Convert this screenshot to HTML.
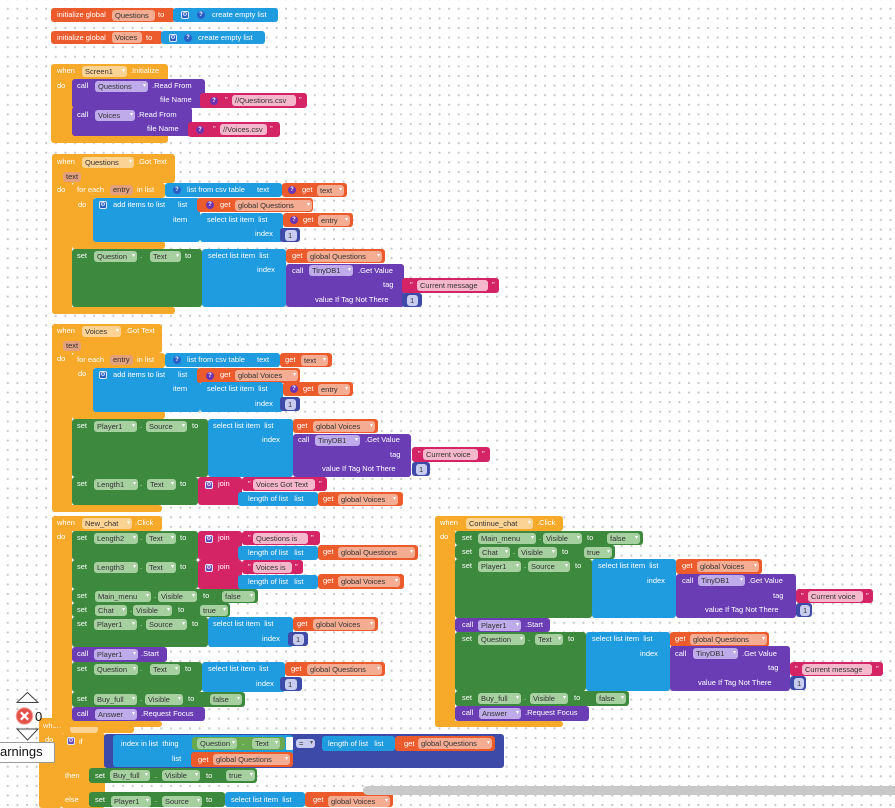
<!DOCTYPE html>
<html><head><meta charset="utf-8">
<style>
*{margin:0;padding:0}
body{width:895px;height:803px;overflow:hidden;position:relative;background:#fff;background-image:radial-gradient(circle,#c6c6c6 0.9px,transparent 1.3px);background-size:9.6px 9.6px;background-position:3px 4px;font-family:"Liberation Sans",sans-serif;font-size:7.5px}
.b{position:absolute;border-radius:3px}
.x{position:absolute;color:#fff;line-height:10px;white-space:nowrap}
.k{position:absolute;height:11px;line-height:11px;border-radius:3px;color:#333;padding-left:3px;box-sizing:border-box;white-space:nowrap;overflow:hidden}
.k i{position:absolute;right:2px;top:0;font-style:normal;color:#fff;font-size:6px}
.q{position:absolute;width:8px;height:8px;border-radius:50%;color:#fff;font-size:6px;line-height:8px;text-align:center;font-weight:bold}
.gr{position:absolute;width:8px;height:8px;border-radius:2px;box-sizing:border-box;border:1px solid #dfe8ff;color:#fff;font-family:"DejaVu Sans",sans-serif;font-size:6px;line-height:6px;text-align:center}
.O{background:#eb5b2b}.C{background:#f7a929}.L{background:#1f9be0}.G{background:#3d8a3e}.P{background:#6a3db5}.T{background:#d42466}.M{background:#3e4aa8}.GL{background:#68a84e}
.ko{background:#f4ac92}.kc{background:#fbd394}.ke{background:#e3a07c}.kg{background:#a6d0a0}.kp{background:#bfaaea}.kt{background:#f5b7cc}.km{background:#c8cdf0}
.qb{background:#2a5fc8}.qp{background:#6b35b0}
.gb{background:#2c5fc4}.gp{background:#6a4ab8}
</style></head><body>

<!-- hidden bottom event (under New_chat) -->
<div class="b C" style="left:39px;top:718px;width:95px;height:15px"></div>
<div class="b C" style="left:39px;top:718px;width:23px;height:90px"></div>
<span class="x" style="left:43px;top:721px;color:#f3f3f3">when</span>
<span class="k kc" style="left:70px;top:722px;width:28px"></span>
<span class="x" style="left:45px;top:735px">do</span>

<!-- global Questions -->
<div class="b O" style="left:51px;top:8px;width:124px;height:14px"></div>
<div class="b L" style="left:173px;top:8px;width:105px;height:14px"></div>
<span class="x" style="left:57px;top:10px">initialize global</span>
<span class="k ko" style="left:112px;top:9.5px;width:43px">Questions</span>
<span class="x" style="left:158px;top:10px">to</span>
<span class="gr gb" style="left:181px;top:11px">⚙</span>
<span class="q qb" style="left:197px;top:11px">?</span>
<span class="x" style="left:212px;top:10px">create empty list</span>

<!-- global Voices -->
<div class="b O" style="left:51px;top:31px;width:112px;height:13px"></div>
<div class="b L" style="left:161px;top:31px;width:104px;height:13px"></div>
<span class="x" style="left:57px;top:32.5px">initialize global</span>
<span class="k ko" style="left:112px;top:32px;width:30px">Voices</span>
<span class="x" style="left:146px;top:32.5px">to</span>
<span class="gr gb" style="left:169px;top:33.5px">⚙</span>
<span class="q qb" style="left:184px;top:33.5px">?</span>
<span class="x" style="left:198px;top:32.5px">create empty list</span>

<!-- Screen1.Initialize -->
<div class="b C" style="left:51px;top:64px;width:117px;height:79px"></div>
<span class="x" style="left:57px;top:66px">when</span>
<span class="k kc" style="left:82px;top:66px;width:45px">Screen1<i>▾</i></span>
<span class="x" style="left:130px;top:66px">.Initialize</span>
<span class="x" style="left:57px;top:81px">do</span>
<div class="b P" style="left:72px;top:79px;width:133px;height:29px"></div>
<span class="x" style="left:77px;top:81px">call</span>
<span class="k kp" style="left:95px;top:81px;width:53px">Questions<i>▾</i></span>
<span class="x" style="left:152px;top:81px">.Read From</span>
<span class="x" style="left:160px;top:95px">file Name</span>
<div class="b T" style="left:200px;top:93px;width:107px;height:15px"></div>
<span class="q qp" style="left:210px;top:96.5px">?</span>
<span class="x" style="left:225px;top:95px">"</span>
<span class="k kt" style="left:232px;top:95px;width:64px">//Questions.csv</span>
<span class="x" style="left:299px;top:95px">"</span>
<div class="b P" style="left:72px;top:107px;width:120px;height:29px"></div>
<span class="x" style="left:77px;top:110px">call</span>
<span class="k kp" style="left:95px;top:110px;width:40px">Voices<i>▾</i></span>
<span class="x" style="left:137px;top:110px">.Read From</span>
<span class="x" style="left:147px;top:124px">file Name</span>
<div class="b T" style="left:188px;top:122px;width:92px;height:15px"></div>
<span class="q qp" style="left:196px;top:125.5px">?</span>
<span class="x" style="left:213px;top:124px">"</span>
<span class="k kt" style="left:220px;top:124px;width:47px">//Voices.csv</span>
<span class="x" style="left:270px;top:124px">"</span>

<!-- Questions.GotText -->
<div class="b C" style="left:52px;top:154px;width:123px;height:29px"></div>
<div class="b C" style="left:52px;top:154px;width:20px;height:160px"></div>
<div class="b C" style="left:52px;top:307px;width:123px;height:7px"></div>
<span class="x" style="left:57px;top:157px">when</span>
<span class="k kc" style="left:82px;top:157px;width:52px">Questions<i>▾</i></span>
<span class="x" style="left:137px;top:157px">.Got Text</span>
<span class="k ke" style="left:63px;top:172px;width:18px;height:10px;line-height:10px">text</span>
<span class="x" style="left:57px;top:185px">do</span>
<div class="b C" style="left:72px;top:183px;width:93px;height:15px"></div>
<div class="b C" style="left:72px;top:183px;width:22px;height:65px"></div>
<div class="b C" style="left:72px;top:241px;width:93px;height:8px"></div>
<span class="x" style="left:77px;top:185px">for each</span>
<span class="k ke" style="left:110px;top:185px;width:23px;height:10px;line-height:10px">entry</span>
<span class="x" style="left:137px;top:185px">in list</span>
<span class="x" style="left:78px;top:200px">do</span>
<div class="b L" style="left:165px;top:183px;width:117px;height:14px"></div>
<span class="q qb" style="left:173px;top:186px">?</span>
<span class="x" style="left:187px;top:185px">list from csv table</span>
<span class="x" style="left:257px;top:185px">text</span>
<div class="b O" style="left:282px;top:183px;width:65px;height:14px"></div>
<span class="q qp" style="left:288px;top:186px">?</span>
<span class="x" style="left:302px;top:185px">get</span>
<span class="k ko" style="left:317px;top:184.5px;width:27px">text<i>▾</i></span>
<div class="b L" style="left:93px;top:198px;width:107px;height:44px"></div>
<span class="gr gb" style="left:99px;top:201px">⚙</span>
<span class="x" style="left:113px;top:200px">add items to list</span>
<span class="x" style="left:178px;top:200px">list</span>
<span class="x" style="left:173px;top:215px">item</span>
<div class="b O" style="left:197px;top:198px;width:116px;height:14px"></div>
<span class="q qp" style="left:206px;top:201px">?</span>
<span class="x" style="left:220px;top:200px">get</span>
<span class="k ko" style="left:235px;top:199.5px;width:77px">global Questions<i>▾</i></span>
<div class="b L" style="left:200px;top:213px;width:83px;height:29px"></div>
<span class="x" style="left:207px;top:215px">select list item&nbsp; list</span>
<span class="x" style="left:255px;top:229px">index</span>
<div class="b O" style="left:283px;top:213px;width:70px;height:14px"></div>
<span class="q qp" style="left:290px;top:216px">?</span>
<span class="x" style="left:303px;top:215px">get</span>
<span class="k ko" style="left:318px;top:214.5px;width:32px">entry<i>▾</i></span>
<div class="b M" style="left:280px;top:228px;width:20px;height:14px"></div>
<span class="k km" style="left:285px;top:229.5px;width:12px">1</span>
<div class="b G" style="left:72px;top:249px;width:130px;height:58px"></div>
<span class="x" style="left:77px;top:251px">set</span>
<span class="k kg" style="left:94px;top:251px;width:43px">Question<i>▾</i></span>
<span class="x" style="left:140px;top:251px">.</span>
<span class="k kg" style="left:150px;top:251px;width:31px">Text<i>▾</i></span>
<span class="x" style="left:185px;top:251px">to</span>
<div class="b L" style="left:202px;top:249px;width:84px;height:58px"></div>
<span class="x" style="left:208px;top:251px">select list item&nbsp; list</span>
<span class="x" style="left:257px;top:265px">index</span>
<div class="b O" style="left:286px;top:249px;width:99px;height:14px"></div>
<span class="x" style="left:292px;top:251px">get</span>
<span class="k ko" style="left:307px;top:250.5px;width:75px">global Questions<i>▾</i></span>
<div class="b P" style="left:286px;top:264px;width:118px;height:43px"></div>
<span class="x" style="left:292px;top:266px">call</span>
<span class="k kp" style="left:309px;top:265px;width:44px">TinyDB1<i>▾</i></span>
<span class="x" style="left:358px;top:266px">.Get Value</span>
<span class="x" style="left:383px;top:280px">tag</span>
<span class="x" style="left:315px;top:295px">value If Tag Not There</span>
<div class="b T" style="left:402px;top:278px;width:97px;height:15px"></div>
<span class="x" style="left:410px;top:280px">"</span>
<span class="k kt" style="left:417px;top:280px;width:71px">Current message</span>
<span class="x" style="left:492px;top:280px">"</span>
<div class="b M" style="left:402px;top:293px;width:20px;height:14px"></div>
<span class="k km" style="left:407px;top:294.5px;width:11px">1</span>

<!-- Voices.GotText -->
<div class="b C" style="left:52px;top:324px;width:110px;height:29px"></div>
<div class="b C" style="left:52px;top:324px;width:20px;height:188px"></div>
<div class="b C" style="left:52px;top:505px;width:110px;height:7px"></div>
<span class="x" style="left:57px;top:326px">when</span>
<span class="k kc" style="left:82px;top:326px;width:39px">Voices<i>▾</i></span>
<span class="x" style="left:125px;top:326px">.Got Text</span>
<span class="k ke" style="left:63px;top:341px;width:18px;height:10px;line-height:10px">text</span>
<span class="x" style="left:57px;top:354px">do</span>
<div class="b C" style="left:72px;top:353px;width:93px;height:15px"></div>
<div class="b C" style="left:72px;top:353px;width:22px;height:66px"></div>
<div class="b C" style="left:72px;top:411px;width:93px;height:8px"></div>
<span class="x" style="left:77px;top:355px">for each</span>
<span class="k ke" style="left:110px;top:355px;width:23px;height:10px;line-height:10px">entry</span>
<span class="x" style="left:137px;top:355px">in list</span>
<span class="x" style="left:78px;top:369px">do</span>
<div class="b L" style="left:165px;top:353px;width:115px;height:14px"></div>
<span class="q qb" style="left:173px;top:356px">?</span>
<span class="x" style="left:187px;top:355px">list from csv table</span>
<span class="x" style="left:257px;top:355px">text</span>
<div class="b O" style="left:280px;top:353px;width:52px;height:14px"></div>
<span class="x" style="left:285px;top:355px">get</span>
<span class="k ko" style="left:301px;top:354.5px;width:27px">text<i>▾</i></span>
<div class="b L" style="left:93px;top:368px;width:107px;height:44px"></div>
<span class="gr gb" style="left:99px;top:371px">⚙</span>
<span class="x" style="left:113px;top:370px">add items to list</span>
<span class="x" style="left:178px;top:370px">list</span>
<span class="x" style="left:173px;top:384px">item</span>
<div class="b O" style="left:197px;top:368px;width:103px;height:15px"></div>
<span class="q qp" style="left:206px;top:371.5px">?</span>
<span class="x" style="left:220px;top:370px">get</span>
<span class="k ko" style="left:235px;top:370px;width:63px">global Voices<i>▾</i></span>
<div class="b L" style="left:200px;top:382px;width:83px;height:30px"></div>
<span class="x" style="left:207px;top:384px">select list item&nbsp; list</span>
<span class="x" style="left:255px;top:399px">index</span>
<div class="b O" style="left:283px;top:382px;width:70px;height:14px"></div>
<span class="q qp" style="left:290px;top:385px">?</span>
<span class="x" style="left:303px;top:384px">get</span>
<span class="k ko" style="left:318px;top:383.5px;width:32px">entry<i>▾</i></span>
<div class="b M" style="left:280px;top:397px;width:20px;height:14px"></div>
<span class="k km" style="left:285px;top:398.5px;width:11px">1</span>
<div class="b G" style="left:72px;top:419px;width:136px;height:58px"></div>
<span class="x" style="left:77px;top:421px">set</span>
<span class="k kg" style="left:94px;top:421px;width:43px">Player1<i>▾</i></span>
<span class="x" style="left:140px;top:421px">.</span>
<span class="k kg" style="left:146px;top:421px;width:41px">Source<i>▾</i></span>
<span class="x" style="left:192px;top:421px">to</span>
<div class="b L" style="left:208px;top:419px;width:85px;height:58px"></div>
<span class="x" style="left:213px;top:421px">select list item&nbsp; list</span>
<span class="x" style="left:262px;top:435px">index</span>
<div class="b O" style="left:293px;top:419px;width:85px;height:14px"></div>
<span class="x" style="left:297px;top:421px">get</span>
<span class="k ko" style="left:313px;top:420.5px;width:62px">global Voices<i>▾</i></span>
<div class="b P" style="left:293px;top:434px;width:118px;height:43px"></div>
<span class="x" style="left:298px;top:435px">call</span>
<span class="k kp" style="left:315px;top:435px;width:45px">TinyDB1<i>▾</i></span>
<span class="x" style="left:365px;top:435px">.Get Value</span>
<span class="x" style="left:390px;top:450px">tag</span>
<span class="x" style="left:322px;top:464px">value If Tag Not There</span>
<div class="b T" style="left:412px;top:447px;width:78px;height:15px"></div>
<span class="x" style="left:418px;top:449px">"</span>
<span class="k kt" style="left:423px;top:449px;width:55px">Current voice</span>
<span class="x" style="left:482px;top:449px">"</span>
<div class="b M" style="left:412px;top:462px;width:18px;height:14px"></div>
<span class="k km" style="left:416px;top:463.5px;width:11px">1</span>
<div class="b G" style="left:72px;top:477px;width:126px;height:28px"></div>
<span class="x" style="left:77px;top:479px">set</span>
<span class="k kg" style="left:94px;top:479px;width:44px">Length1<i>▾</i></span>
<span class="x" style="left:140px;top:479px">.</span>
<span class="k kg" style="left:147px;top:479px;width:29px">Text<i>▾</i></span>
<span class="x" style="left:180px;top:479px">to</span>
<div class="b T" style="left:198px;top:477px;width:44px;height:28px"></div>
<span class="gr gp" style="left:205px;top:481px">⚙</span>
<span class="x" style="left:218px;top:479px">join</span>
<div class="b T" style="left:242px;top:477px;width:85px;height:14px"></div>
<span class="x" style="left:248px;top:479px">"</span>
<span class="k kt" style="left:253px;top:478.5px;width:62px">Voices Got Text</span>
<span class="x" style="left:319px;top:479px">"</span>
<div class="b L" style="left:238px;top:492px;width:80px;height:14px"></div>
<span class="x" style="left:248px;top:494px">length of list&nbsp;&nbsp; list</span>
<div class="b O" style="left:318px;top:492px;width:85px;height:14px"></div>
<span class="x" style="left:323px;top:494px">get</span>
<span class="k ko" style="left:338px;top:493.5px;width:60px">global Voices<i>▾</i></span>

<!-- New_chat.Click -->
<div class="b C" style="left:52px;top:516px;width:110px;height:15px"></div>
<div class="b C" style="left:52px;top:516px;width:20px;height:211px"></div>
<div class="b C" style="left:52px;top:721px;width:110px;height:6px"></div>
<span class="x" style="left:57px;top:518px">when</span>
<span class="k kc" style="left:82px;top:518px;width:50px">New_chat<i>▾</i></span>
<span class="x" style="left:135px;top:518px">.Click</span>
<span class="x" style="left:57px;top:532px">do</span>
<div class="b G" style="left:72px;top:531px;width:126px;height:29px"></div>
<span class="x" style="left:77px;top:533px">set</span>
<span class="k kg" style="left:94px;top:533px;width:44px">Length2<i>▾</i></span>
<span class="x" style="left:140px;top:533px">.</span>
<span class="k kg" style="left:146px;top:533px;width:30px">Text<i>▾</i></span>
<span class="x" style="left:180px;top:533px">to</span>
<div class="b T" style="left:198px;top:531px;width:44px;height:29px"></div>
<span class="gr gp" style="left:205px;top:535px">⚙</span>
<span class="x" style="left:218px;top:533px">join</span>
<div class="b T" style="left:242px;top:531px;width:78px;height:14px"></div>
<span class="x" style="left:248px;top:533px">"</span>
<span class="k kt" style="left:253px;top:532.5px;width:55px">Questions is</span>
<span class="x" style="left:311px;top:533px">"</span>
<div class="b L" style="left:238px;top:546px;width:80px;height:14px"></div>
<span class="x" style="left:248px;top:548px">length of list&nbsp;&nbsp; list</span>
<div class="b O" style="left:318px;top:545px;width:100px;height:15px"></div>
<span class="x" style="left:323px;top:547px">get</span>
<span class="k ko" style="left:338px;top:547px;width:77px">global Questions<i>▾</i></span>
<div class="b G" style="left:72px;top:560px;width:126px;height:29px"></div>
<span class="x" style="left:77px;top:562px">set</span>
<span class="k kg" style="left:94px;top:562px;width:44px">Length3<i>▾</i></span>
<span class="x" style="left:140px;top:562px">.</span>
<span class="k kg" style="left:146px;top:562px;width:30px">Text<i>▾</i></span>
<span class="x" style="left:180px;top:562px">to</span>
<div class="b T" style="left:198px;top:560px;width:44px;height:29px"></div>
<span class="gr gp" style="left:205px;top:564px">⚙</span>
<span class="x" style="left:218px;top:562px">join</span>
<div class="b T" style="left:242px;top:560px;width:61px;height:14px"></div>
<span class="x" style="left:248px;top:562px">"</span>
<span class="k kt" style="left:253px;top:561.5px;width:39px">Voices is</span>
<span class="x" style="left:295px;top:562px">"</span>
<div class="b L" style="left:238px;top:575px;width:80px;height:14px"></div>
<span class="x" style="left:248px;top:577px">length of list&nbsp;&nbsp; list</span>
<div class="b O" style="left:318px;top:574px;width:86px;height:15px"></div>
<span class="x" style="left:323px;top:576px">get</span>
<span class="k ko" style="left:338px;top:576px;width:62px">global Voices<i>▾</i></span>
<div class="b G" style="left:72px;top:589px;width:186px;height:14px"></div>
<span class="x" style="left:77px;top:591px">set</span>
<span class="k kg" style="left:95px;top:590.5px;width:56px">Main_menu<i>▾</i></span>
<span class="x" style="left:154px;top:591px">.</span>
<span class="k kg" style="left:158px;top:590.5px;width:39px">Visible<i>▾</i></span>
<span class="x" style="left:203px;top:591px">to</span>
<span class="k kg" style="left:222px;top:590.5px;width:33px">false<i>▾</i></span>
<div class="b G" style="left:72px;top:603px;width:158px;height:14px"></div>
<span class="x" style="left:77px;top:605px">set</span>
<span class="k kg" style="left:95px;top:604.5px;width:32px">Chat<i>▾</i></span>
<span class="x" style="left:130px;top:605px">.</span>
<span class="k kg" style="left:133px;top:604.5px;width:39px">Visible<i>▾</i></span>
<span class="x" style="left:178px;top:605px">to</span>
<span class="k kg" style="left:200px;top:604.5px;width:28px">true<i>▾</i></span>
<div class="b G" style="left:72px;top:617px;width:136px;height:30px"></div>
<span class="x" style="left:77px;top:619px">set</span>
<span class="k kg" style="left:94px;top:619px;width:43px">Player1<i>▾</i></span>
<span class="x" style="left:140px;top:619px">.</span>
<span class="k kg" style="left:146px;top:619px;width:41px">Source<i>▾</i></span>
<span class="x" style="left:192px;top:619px">to</span>
<div class="b L" style="left:208px;top:617px;width:85px;height:30px"></div>
<span class="x" style="left:213px;top:619px">select list item&nbsp; list</span>
<span class="x" style="left:262px;top:634px">index</span>
<div class="b O" style="left:293px;top:617px;width:85px;height:14px"></div>
<span class="x" style="left:297px;top:619px">get</span>
<span class="k ko" style="left:313px;top:618.5px;width:62px">global Voices<i>▾</i></span>
<div class="b M" style="left:288px;top:632px;width:20px;height:14px"></div>
<span class="k km" style="left:293px;top:633.5px;width:11px">1</span>
<div class="b P" style="left:72px;top:647px;width:95px;height:15px"></div>
<span class="x" style="left:77px;top:649px">call</span>
<span class="k kp" style="left:94px;top:649px;width:44px">Player1<i>▾</i></span>
<span class="x" style="left:141px;top:649px">.Start</span>
<div class="b G" style="left:72px;top:662px;width:130px;height:30px"></div>
<span class="x" style="left:77px;top:664px">set</span>
<span class="k kg" style="left:94px;top:664px;width:44px">Question<i>▾</i></span>
<span class="x" style="left:140px;top:664px">.</span>
<span class="k kg" style="left:150px;top:664px;width:30px">Text<i>▾</i></span>
<span class="x" style="left:185px;top:664px">to</span>
<div class="b L" style="left:202px;top:662px;width:83px;height:30px"></div>
<span class="x" style="left:208px;top:664px">select list item&nbsp; list</span>
<span class="x" style="left:256px;top:679px">index</span>
<div class="b O" style="left:285px;top:662px;width:100px;height:14px"></div>
<span class="x" style="left:291px;top:664px">get</span>
<span class="k ko" style="left:307px;top:663.5px;width:75px">global Questions<i>▾</i></span>
<div class="b M" style="left:280px;top:677px;width:22px;height:14px"></div>
<span class="k km" style="left:285px;top:678.5px;width:12px">1</span>
<div class="b G" style="left:72px;top:692px;width:173px;height:15px"></div>
<span class="x" style="left:77px;top:694px">set</span>
<span class="k kg" style="left:94px;top:694px;width:43px">Buy_full<i>▾</i></span>
<span class="x" style="left:140px;top:694px">.</span>
<span class="k kg" style="left:145px;top:694px;width:38px">Visible<i>▾</i></span>
<span class="x" style="left:188px;top:694px">to</span>
<span class="k kg" style="left:210px;top:694px;width:32px">false<i>▾</i></span>
<div class="b P" style="left:72px;top:707px;width:133px;height:14px"></div>
<span class="x" style="left:77px;top:709px">call</span>
<span class="k kp" style="left:95px;top:708.5px;width:42px">Answer<i>▾</i></span>
<span class="x" style="left:141px;top:709px">.Request Focus</span>

<!-- Continue_chat.Click -->
<div class="b C" style="left:435px;top:516px;width:128px;height:15px"></div>
<div class="b C" style="left:435px;top:516px;width:20px;height:211px"></div>
<div class="b C" style="left:435px;top:721px;width:128px;height:6px"></div>
<span class="x" style="left:440px;top:518px">when</span>
<span class="k kc" style="left:466px;top:518px;width:67px">Continue_chat<i>▾</i></span>
<span class="x" style="left:537px;top:518px">.Click</span>
<span class="x" style="left:440px;top:532px">do</span>
<div class="b G" style="left:455px;top:531px;width:188px;height:14px"></div>
<span class="x" style="left:462px;top:533px">set</span>
<span class="k kg" style="left:478px;top:532.5px;width:58px">Main_menu<i>▾</i></span>
<span class="x" style="left:539px;top:533px">.</span>
<span class="k kg" style="left:543px;top:532.5px;width:39px">Visible<i>▾</i></span>
<span class="x" style="left:587px;top:533px">to</span>
<span class="k kg" style="left:607px;top:532.5px;width:33px">false<i>▾</i></span>
<div class="b G" style="left:455px;top:545px;width:160px;height:14px"></div>
<span class="x" style="left:462px;top:547px">set</span>
<span class="k kg" style="left:479px;top:546.5px;width:31px">Chat<i>▾</i></span>
<span class="x" style="left:513px;top:547px">.</span>
<span class="k kg" style="left:518px;top:546.5px;width:39px">Visible<i>▾</i></span>
<span class="x" style="left:562px;top:547px">to</span>
<span class="k kg" style="left:584px;top:546.5px;width:28px">true<i>▾</i></span>
<div class="b G" style="left:455px;top:559px;width:137px;height:59px"></div>
<span class="x" style="left:462px;top:561px">set</span>
<span class="k kg" style="left:478px;top:561px;width:43px">Player1<i>▾</i></span>
<span class="x" style="left:524px;top:561px">.</span>
<span class="k kg" style="left:528px;top:561px;width:42px">Source<i>▾</i></span>
<span class="x" style="left:575px;top:561px">to</span>
<div class="b L" style="left:592px;top:559px;width:84px;height:59px"></div>
<span class="x" style="left:598px;top:561px">select list item&nbsp; list</span>
<span class="x" style="left:647px;top:576px">index</span>
<div class="b O" style="left:676px;top:559px;width:86px;height:15px"></div>
<span class="x" style="left:682px;top:561px">get</span>
<span class="k ko" style="left:697px;top:561px;width:62px">global Voices<i>▾</i></span>
<div class="b P" style="left:676px;top:574px;width:120px;height:44px"></div>
<span class="x" style="left:682px;top:576px">call</span>
<span class="k kp" style="left:698px;top:575px;width:47px">TinyDB1<i>▾</i></span>
<span class="x" style="left:748px;top:576px">.Get Value</span>
<span class="x" style="left:773px;top:591px">tag</span>
<span class="x" style="left:705px;top:605px">value If Tag Not There</span>
<div class="b T" style="left:796px;top:589px;width:77px;height:14px"></div>
<span class="x" style="left:801px;top:591px">"</span>
<span class="k kt" style="left:808px;top:590.5px;width:55px">Current voice</span>
<span class="x" style="left:866px;top:591px">"</span>
<div class="b M" style="left:796px;top:603px;width:16px;height:14px"></div>
<span class="k km" style="left:800px;top:604.5px;width:10px">1</span>
<div class="b P" style="left:455px;top:618px;width:95px;height:14px"></div>
<span class="x" style="left:462px;top:620px">call</span>
<span class="k kp" style="left:478px;top:619.5px;width:43px">Player1<i>▾</i></span>
<span class="x" style="left:525px;top:620px">.Start</span>
<div class="b G" style="left:455px;top:632px;width:131px;height:59px"></div>
<span class="x" style="left:462px;top:634px">set</span>
<span class="k kg" style="left:478px;top:634px;width:47px">Question<i>▾</i></span>
<span class="x" style="left:528px;top:634px">.</span>
<span class="k kg" style="left:535px;top:634px;width:28px">Text<i>▾</i></span>
<span class="x" style="left:568px;top:634px">to</span>
<div class="b L" style="left:586px;top:632px;width:84px;height:59px"></div>
<span class="x" style="left:592px;top:634px">select list item&nbsp; list</span>
<span class="x" style="left:640px;top:649px">index</span>
<div class="b O" style="left:670px;top:632px;width:99px;height:15px"></div>
<span class="x" style="left:675px;top:634px">get</span>
<span class="k ko" style="left:690px;top:634px;width:77px">global Questions<i>▾</i></span>
<div class="b P" style="left:670px;top:646px;width:120px;height:45px"></div>
<span class="x" style="left:675px;top:649px">call</span>
<span class="k kp" style="left:693px;top:647.5px;width:45px">TinyDB1<i>▾</i></span>
<span class="x" style="left:742px;top:649px">.Get Value</span>
<span class="x" style="left:768px;top:663px">tag</span>
<span class="x" style="left:698px;top:678px">value If Tag Not There</span>
<div class="b T" style="left:790px;top:662px;width:93px;height:14px"></div>
<span class="x" style="left:795px;top:664px">"</span>
<span class="k kt" style="left:802px;top:663.5px;width:70px">Current message</span>
<span class="x" style="left:876px;top:664px">"</span>
<div class="b M" style="left:790px;top:676px;width:16px;height:14px"></div>
<span class="k km" style="left:794px;top:677.5px;width:10px">1</span>
<div class="b G" style="left:455px;top:691px;width:174px;height:15px"></div>
<span class="x" style="left:462px;top:693px">set</span>
<span class="k kg" style="left:478px;top:693px;width:43px">Buy_full<i>▾</i></span>
<span class="x" style="left:524px;top:693px">.</span>
<span class="k kg" style="left:530px;top:693px;width:38px">Visible<i>▾</i></span>
<span class="x" style="left:574px;top:693px">to</span>
<span class="k kg" style="left:596px;top:693px;width:30px">false<i>▾</i></span>
<div class="b P" style="left:455px;top:706px;width:134px;height:15px"></div>
<span class="x" style="left:462px;top:708px">call</span>
<span class="k kp" style="left:479px;top:708px;width:42px">Answer<i>▾</i></span>
<span class="x" style="left:525px;top:708px">.Request Focus</span>

<!-- if block in hidden event -->
<div class="b C" style="left:61px;top:733px;width:44px;height:75px"></div>
<span class="gr gp" style="left:67px;top:737px">⚙</span>
<span class="x" style="left:79px;top:737px">if</span>
<span class="x" style="left:65px;top:771px">then</span>
<span class="x" style="left:65px;top:795px">else</span>
<div class="b M" style="left:104px;top:734px;width:400px;height:34px"></div>
<div class="b L" style="left:113px;top:735px;width:180px;height:32px"></div>
<span class="x" style="left:121px;top:739px">index in list&nbsp; thing</span>
<span class="x" style="left:172px;top:754px">list</span>
<div class="b GL" style="left:192px;top:737px;width:93px;height:13px"></div>
<span class="k kg" style="left:197px;top:738px;width:40px">Question<i>▾</i></span>
<span class="x" style="left:242px;top:738px">.</span>
<span class="k kg" style="left:252px;top:738px;width:28px">Text<i>▾</i></span>
<div class="b" style="left:286px;top:737px;width:7px;height:13px;background:#fff;border-radius:1px"></div>
<span class="k km" style="left:296px;top:739px;width:19px;height:9px;line-height:9px">=<i style="color:#555">▾</i></span>
<div class="b L" style="left:322px;top:736px;width:73px;height:15px"></div>
<span class="x" style="left:328px;top:739px">length of list&nbsp;&nbsp; list</span>
<div class="b O" style="left:395px;top:736px;width:100px;height:15px"></div>
<span class="x" style="left:404px;top:739px">get</span>
<span class="k ko" style="left:418px;top:738px;width:74px">global Questions<i>▾</i></span>
<div class="b O" style="left:191px;top:752px;width:102px;height:15px"></div>
<span class="x" style="left:198px;top:755px">get</span>
<span class="k ko" style="left:213px;top:754px;width:77px">global Questions<i>▾</i></span>
<div class="b G" style="left:89px;top:768px;width:168px;height:15px"></div>
<span class="x" style="left:95px;top:771px">set</span>
<span class="k kg" style="left:110px;top:770px;width:40px">Buy_full<i>▾</i></span>
<span class="x" style="left:155px;top:771px">.</span>
<span class="k kg" style="left:162px;top:770px;width:38px">Visible<i>▾</i></span>
<span class="x" style="left:206px;top:771px">to</span>
<span class="k kg" style="left:226px;top:770px;width:29px">true<i>▾</i></span>
<div class="b G" style="left:89px;top:792px;width:136px;height:15px"></div>
<span class="x" style="left:95px;top:795px">set</span>
<span class="k kg" style="left:111px;top:796px;width:40px">Player1<i>▾</i></span>
<span class="x" style="left:155px;top:795px">.</span>
<span class="k kg" style="left:162px;top:796px;width:40px">Source<i>▾</i></span>
<span class="x" style="left:206px;top:795px">to</span>
<div class="b L" style="left:225px;top:792px;width:80px;height:15px"></div>
<span class="x" style="left:231px;top:795px">select list item&nbsp; list</span>
<div class="b O" style="left:305px;top:792px;width:88px;height:15px"></div>
<span class="x" style="left:313px;top:795px">get</span>
<span class="k ko" style="left:328px;top:796px;width:62px">global Voices<i>▾</i></span>

<!-- scrollbar -->
<div class="b" style="left:363px;top:786px;width:540px;height:9px;background:#c8c8c8;border-radius:5px"></div>

<!-- left widgets -->
<svg style="position:absolute;left:0;top:680px" width="60" height="90" viewBox="0 680 60 90">
<polygon points="17,702.5 27.5,692.5 38,702.5" fill="#fff" stroke="#444" stroke-width="1"/>
<circle cx="24.5" cy="716" r="8.3" fill="#e4504a" stroke="#f3a6a2" stroke-width="1"/>
<line x1="20.8" y1="712.3" x2="28.2" y2="719.7" stroke="#fff" stroke-width="2.2"/>
<line x1="28.2" y1="712.3" x2="20.8" y2="719.7" stroke="#fff" stroke-width="2.2"/>
<polygon points="17,729 38,729 27.5,740" fill="#fff" stroke="#444" stroke-width="1"/>
</svg>
<span style="position:absolute;left:35px;top:709px;font-size:13px;line-height:15px;color:#111">0</span>
<div style="position:absolute;left:-2px;top:742px;width:57px;height:21px;background:#fff;border:1px solid #999;box-sizing:border-box;border-radius:2px"></div>
<span style="position:absolute;left:0;top:744px;font-size:13px;line-height:16px;color:#111">arnings</span>

</body></html>
